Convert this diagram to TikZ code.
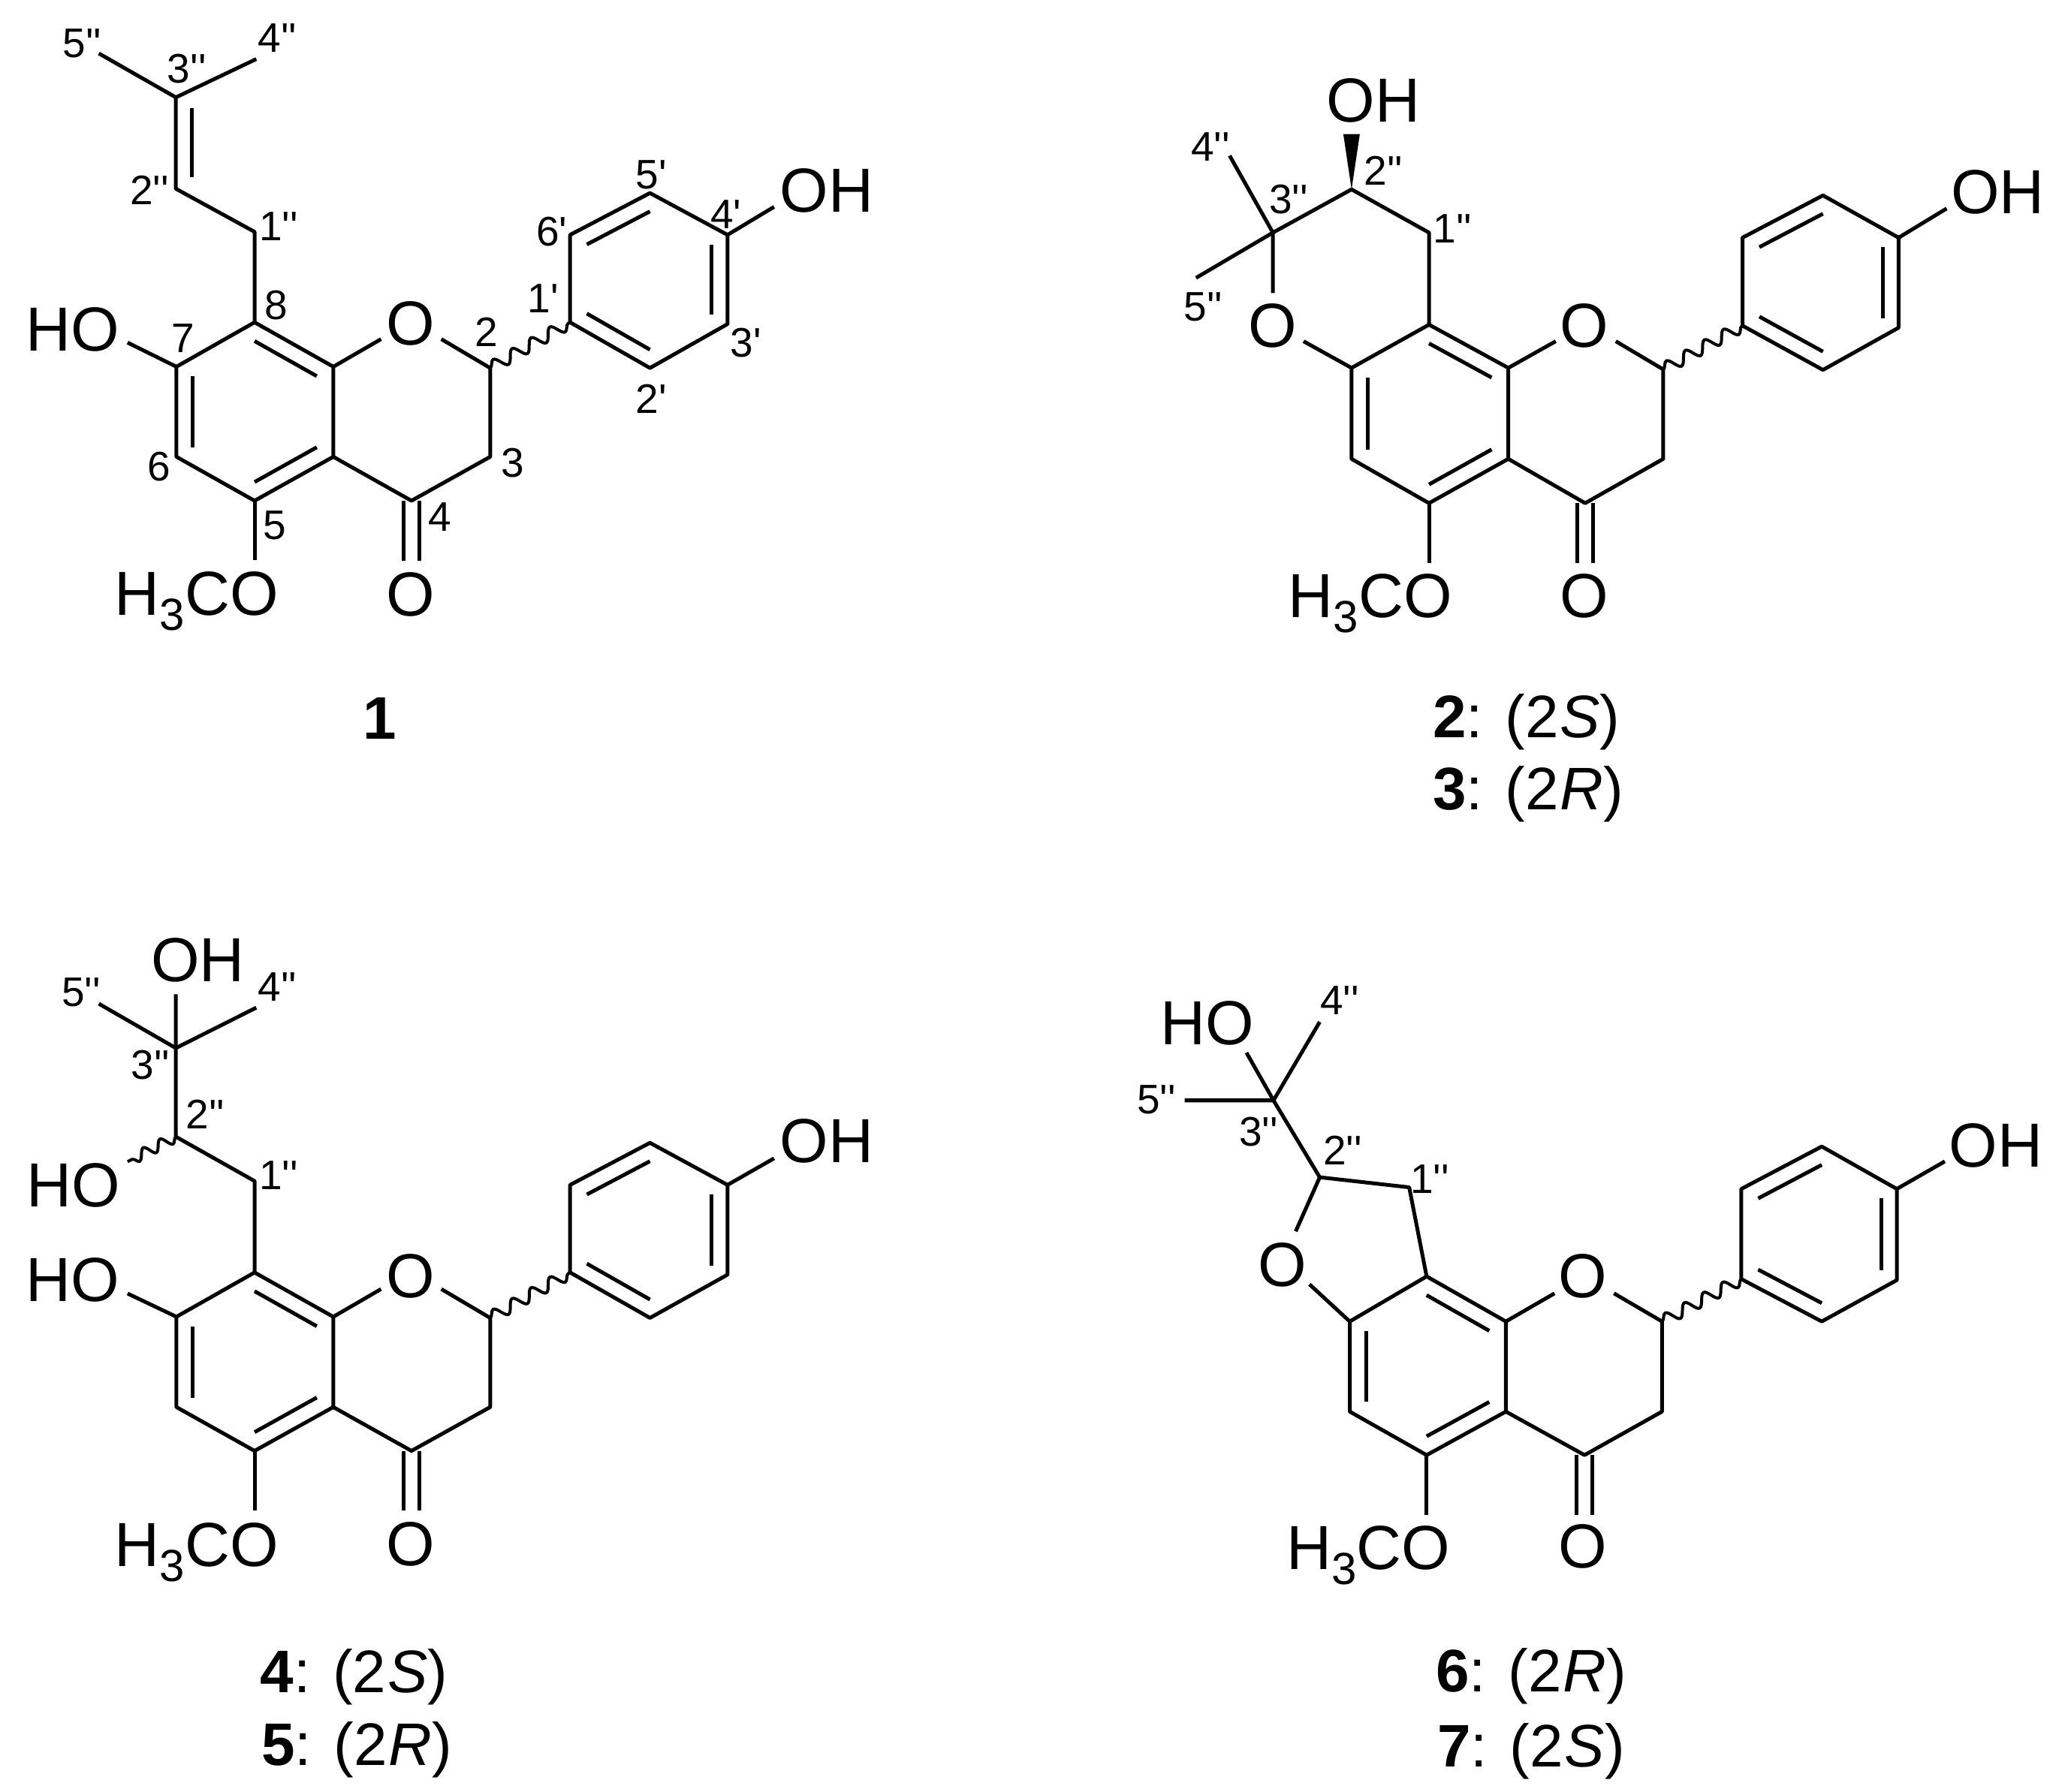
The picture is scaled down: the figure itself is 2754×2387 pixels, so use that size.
\documentclass[tikz,border=0pt]{standalone}
\usepackage{fontspec}
\usetikzlibrary{calc,decorations.pathmorphing}
\newfontfamily\arl{Liberation Sans}
\newcommand\atm[2]{\coordinate (#1) at (#2);}
\newcommand\hthree{H\raisebox{-20pt}{\fontsize{60}{60}\selectfont 3}CO}
\newcommand\dbl[3]{\draw[bondline] ($(#1)!.21!(#3)$) -- ($(#2)!.21!(#3)$);}
\newcommand\flavcore{%
  \coordinate (ra) at ($(c8)!.5!(c5)$);
  \coordinate (rb) at ($(c5p)!.5!(c2p)$);
  \draw[bondline] (c8)--(c7)--(c6)--(c5)--(c4a)--(c8a)--cycle;
  \draw[bondline] (c8a)--(oa);
  \draw[bondline] (ob)--(c2)--(c3)--(c4)--(c4a);
  \draw[bondline] (c1p)--(c6p)--(c5p)--(c4p)--(c3p)--(c2p)--cycle;
  \draw[bondline] (c4p)--(ohe);
  \draw[bondline] (c5)--(ome);
  \draw[bondline] ([xshift=-10.8pt]c4)--([xshift=-10.8pt]o4e);
  \draw[bondline] ([xshift=10.8pt]c4)--([xshift=10.8pt]o4e);
  \dbl{c7}{c6}{ra}
  \dbl{c8}{c8a}{ra}
  \dbl{c5}{c4a}{ra}
  \dbl{c1p}{c2p}{rb}
  \dbl{c6p}{c5p}{rb}
  \dbl{c4p}{c3p}{rb}
  \draw[wavy] (c2)--(c1p);
}
\tikzset{
  bondline/.style={line width=5pt,line join=round,line cap=butt,black},
  wavy/.style={line width=4pt,black,decorate,decoration={snake,segment length=29pt,amplitude=8pt}},
  chemc/.style={inner sep=0pt,anchor=center,font=\arl\fontsize{83}{83}\selectfont},
  chemw/.style={inner sep=0pt,anchor=base west,xshift=-4pt,font=\arl\fontsize{83}{83}\selectfont},
  cheme/.style={inner sep=0pt,anchor=base east,xshift=2pt,font=\arl\fontsize{83}{83}\selectfont},
  numlab/.style={inner sep=0pt,anchor=center,font=\arl\fontsize{55}{55}\selectfont},
  capt/.style={inner sep=0pt,anchor=base west,font=\arl\fontsize{80}{80}\selectfont},
  molA/.style={x=0.7653pt,y=-0.574pt},
  molB/.style={x=0.7997pt,y=-0.6698pt},
  molC/.style={x=0.7653pt,y=-0.738pt},
  molD/.style={x=0.7997pt,y=-0.7062pt},
}
\begin{document}
\begin{tikzpicture}
\fill[white] (0,0) rectangle (2754pt,-2387pt);
\useasboundingbox (0,0) rectangle (2754pt,-2387pt);

% ---------- compound 1
\begin{scope}[molA,name prefix=m1-]
\atm{c8a}{580,851}\atm{c4a}{580,1060}\atm{c5}{443,1162}\atm{c6}{307,1060}\atm{c7}{307,851}\atm{c8}{443,748}
\atm{oa}{663,787}\atm{ob}{768,787}\atm{c2}{853,854}\atm{c3}{853,1060}\atm{c4}{716,1162}\atm{o4e}{716,1302}
\atm{c1p}{992,748}\atm{c6p}{992,545}\atm{c5p}{1131,448}\atm{c4p}{1266,545}\atm{c3p}{1266,752}\atm{c2p}{1131,854}
\atm{ohe}{1347,480}\atm{ome}{443,1300}
\atm{hoe}{222,795}\atm{c3pp}{306,226}\atm{c2pp}{306,438}\atm{c1pp}{443,538}\atm{e5}{172,124}\atm{e4}{446,137}
\atm{dbA}{334,250}\atm{dbB}{334,412}
\flavcore
\draw[bondline] (c7)--(hoe);
\draw[bondline] (c8)--(c1pp)--(c2pp)--(c3pp);
\draw[bondline] (e5)--(c3pp)--(e4);
\draw[bondline] (dbA)--(dbB);
\node[chemc] (o1) at (715,750) {O};
\node[chemc] (o4) at (715,1380) {O};
\node[chemw] (oh) at (1362,492) {OH};
\node[cheme] (ho) at (205,815) {HO};
\node[cheme] (meo) at (482,1428) {\hthree};
\node[numlab] (l5pp) at (143,100) {5''};
\node[numlab] (l4pp) at (483,88) {4''};
\node[numlab] (l3pp) at (325,160) {3''};
\node[numlab] (l2pp) at (260,442) {2''};
\node[numlab] (l1pp) at (485,526) {1''};
\node[numlab] (l8) at (481,708) {8};
\node[numlab] (l7) at (318,785) {7};
\node[numlab] (l6) at (277,1082) {6};
\node[numlab] (l5) at (478,1220) {5};
\node[numlab] (l4) at (765,1200) {4};
\node[numlab] (l3) at (892,1075) {3};
\node[numlab] (l2) at (846,770) {2};
\node[numlab] (l1p) at (945,692) {1'};
\node[numlab] (l6p) at (960,538) {6'};
\node[numlab] (l5p) at (1133,405) {5'};
\node[numlab] (l4p) at (1263,497) {4'};
\node[numlab] (l3p) at (1298,795) {3'};
\node[numlab] (l2p) at (1133,925) {2'};
\node[capt,anchor=center,font=\arl\bfseries\fontsize{80}{80}\selectfont] (cap) at (661,1667) {1};
\end{scope}

% ---------- compounds 2, 3
\begin{scope}[shift={(1500pt,-50pt)},molB,name prefix=m2-]
\atm{c8a}{636,657}\atm{c4a}{636,838}\atm{c5}{504,926}\atm{c6}{375,838}\atm{c7}{375,657}\atm{c8}{504,571}
\atm{oa}{715,604}\atm{ob}{815,604}\atm{c2}{894,660}\atm{c3}{894,838}\atm{c4}{764,926}\atm{o4e}{764,1045}
\atm{c1p}{1026,573}\atm{c6p}{1026,398}\atm{c5p}{1160,314}\atm{c4p}{1286,398}\atm{c3p}{1286,577}\atm{c2p}{1160,661}
\atm{ohe}{1366,340}\atm{ome}{504,1045}
\atm{c3pp}{244,388}\atm{c2pp}{375,302}\atm{c1pp}{504,388}\atm{e4}{172,235}\atm{e5}{116,478}
\atm{pyA}{244,508}\atm{pyB}{295,604}\atm{wtop}{375,192}
\flavcore
\draw[bondline] (c8)--(c1pp)--(c2pp)--(c3pp)--(pyA);
\draw[bondline] (pyB)--(c7);
\draw[bondline] (e4)--(c3pp)--(e5);
\fill[black] (c2pp) -- ([xshift=-11pt]wtop) -- ([xshift=11pt]wtop) -- cycle;
\node[chemc] (o1) at (763,573) {O};
\node[chemc] (o4) at (763,1110) {O};
\node[chemc] (o2) at (243,573) {O};
\node[chemw] (oh) at (1378,350) {OH};
\node[chemw] (oh2) at (338,168) {OH};
\node[cheme] (meo) at (540,1153) {\hthree};
\node[numlab] (l4pp) at (140,218) {4''};
\node[numlab] (l2pp) at (428,265) {2''};
\node[numlab] (l3pp) at (270,322) {3''};
\node[numlab] (l1pp) at (543,380) {1''};
\node[numlab] (l5pp) at (128,536) {5''};
\node[capt] (capa) at (510,1392) {\textbf{2}: (2\kern2pt\textit{S})};
\node[capt] (capb) at (510,1535) {\textbf{3}: (2\kern2pt\textit{R})};
\end{scope}

% ---------- compounds 4, 5
\begin{scope}[shift={(0pt,-1230pt)},molC,name prefix=m4-]
\atm{c8a}{580,710}\atm{c4a}{580,873}\atm{c5}{443,952}\atm{c6}{307,873}\atm{c7}{307,710}\atm{c8}{443,630}
\atm{oa}{663,660}\atm{ob}{768,660}\atm{c2}{853,712}\atm{c3}{853,873}\atm{c4}{716,952}\atm{o4e}{716,1060}
\atm{c1p}{992,630}\atm{c6p}{992,472}\atm{c5p}{1131,396}\atm{c4p}{1266,472}\atm{c3p}{1266,634}\atm{c2p}{1131,712}
\atm{ohe}{1347,424}\atm{ome}{443,1060}
\atm{hoe}{222,668}\atm{c3pp}{306,225}\atm{topoh}{306,128}\atm{e5}{172,145}\atm{e4}{446,152}
\atm{c2pp}{306,385}\atm{c1pp}{443,465}\atm{hob}{222,430}
\flavcore
\draw[bondline] (c7)--(hoe);
\draw[bondline] (c8)--(c1pp)--(c2pp)--(c3pp)--(topoh);
\draw[bondline] (e5)--(c3pp)--(e4);
\draw[wavy,decoration={segment length=25pt,amplitude=7pt}] (c2pp)--(hob);
\node[chemc] (o1) at (715,637) {O};
\node[chemc] (o4) at (715,1120) {O};
\node[chemw] (oh) at (1362,432) {OH};
\node[chemw] (oh2) at (268,105) {OH};
\node[cheme] (ho1) at (207,512) {HO};
\node[cheme] (ho2) at (205,682) {HO};
\node[cheme] (meo) at (482,1160) {\hthree};
\node[numlab] (l5pp) at (141,125) {5''};
\node[numlab] (l4pp) at (483,115) {4''};
\node[numlab] (l3pp) at (262,255) {3''};
\node[numlab] (l2pp) at (357,345) {2''};
\node[numlab] (l1pp) at (485,455) {1''};
\node[capt] (capa) at (453,1388) {\textbf{4}: (2\kern2pt\textit{S})};
\node[capt] (capb) at (455,1520) {\textbf{5}: (2\kern2pt\textit{R})};
\end{scope}

% ---------- compounds 6, 7
\begin{scope}[shift={(1500pt,-1280pt)},molD,name prefix=m6-]
\atm{c8a}{632,680}\atm{c4a}{632,850}\atm{c5}{500,932}\atm{c6}{372,850}\atm{c7}{372,680}\atm{c8}{500,595}
\atm{oa}{713,627}\atm{ob}{812,627}\atm{c2}{892,680}\atm{c3}{892,850}\atm{c4}{763,932}\atm{o4e}{763,1045}
\atm{c1p}{1024,600}\atm{c6p}{1024,430}\atm{c5p}{1158,350}\atm{c4p}{1283,430}\atm{c3p}{1283,602}\atm{c2p}{1158,680}
\atm{ohe}{1363,378}\atm{ome}{500,1045}
\atm{c3pp}{245,263}\atm{e4}{322,115}\atm{e5}{97,263}\atm{hoe}{200,173}
\atm{c2pp}{322,408}\atm{c1pp}{471,427}\atm{fuA}{282,510}\atm{fuB}{305,610}
\flavcore
\draw[bondline] (c8)--(c1pp)--(c2pp)--(c3pp)--(e4);
\draw[bondline] (e5)--(c3pp)--(hoe);
\draw[bondline] (c2pp)--(fuA);
\draw[bondline] (fuB)--(c7);
\node[chemc] (o1) at (760,595) {O};
\node[chemc] (o4) at (760,1105) {O};
\node[chemc] (o2) at (260,573) {O};
\node[chemw] (oh) at (1375,388) {OH};
\node[chemw] (ho) at (62,158) {HO};
\node[cheme] (meo) at (537,1147) {\hthree};
\node[numlab] (l4pp) at (355,75) {4''};
\node[numlab] (l5pp) at (50,262) {5''};
\node[numlab] (l3pp) at (220,322) {3''};
\node[numlab] (l2pp) at (360,357) {2''};
\node[numlab] (l1pp) at (505,412) {1''};
\node[capt] (capa) at (515,1378) {\textbf{6}: (2\kern2pt\textit{R})};
\node[capt] (capb) at (518,1520) {\textbf{7}: (2\kern2pt\textit{S})};
\end{scope}
\end{tikzpicture}
\end{document}
